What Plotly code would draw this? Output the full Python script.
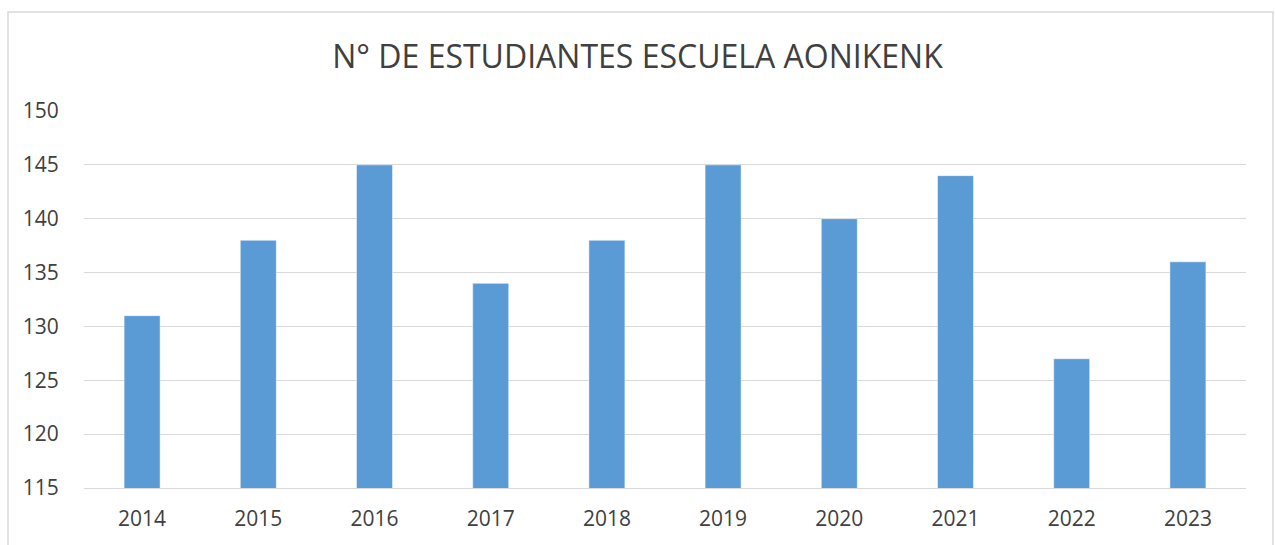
import plotly.graph_objects as go

years = ["2014", "2015", "2016", "2017", "2018", "2019", "2020", "2021", "2022", "2023"]
students = [131, 138, 145, 134, 138, 145, 140, 144, 127, 136]
y_ticks = [115, 120, 125, 130, 135, 140, 145, 150]

W, H = 1275, 545
L, R, T, B = 84, 1246, 111, 488

fig = go.Figure(go.Bar(
    x=years, y=students,
    marker=dict(color="#5B9BD5", line=dict(color="#FFFFFF", width=0.5)),
    width=0.31,
))

pw, ph = R - L, B - T
def px_x(p): return (p - L) / pw
def px_y(p): return (B - p) / ph

fig.add_shape(type="rect", xref="paper", yref="paper",
              x0=px_x(8), x1=px_x(1273), y0=px_y(560), y1=px_y(12),
              line=dict(color="#D9D9D9", width=1.5), fillcolor="rgba(0,0,0,0)", layer="below")

fig.update_layout(
    width=W, height=H,
    margin=dict(l=L, r=W - R, t=T, b=H - B, pad=0),
    paper_bgcolor="white", plot_bgcolor="white",
    font=dict(family="Open Sans", color="#404040"),
    title=dict(text="N° DE ESTUDIANTES ESCUELA AONIKENK", x=0.5, xanchor="center",
               y=1 - 57 / H, yanchor="middle",
               font=dict(size=32, color="#404040", family="Open Sans")),
    showlegend=False,
    bargap=0.69,
)
fig.update_xaxes(showgrid=False, showline=True, linecolor="#D9D9D9", linewidth=1,
                 ticks="outside", ticklen=12, tickcolor="rgba(0,0,0,0)",
                 tickfont=dict(size=21, color="#404040"))
fig.update_yaxes(range=[115, 150], tickvals=y_ticks, showgrid=True, gridcolor="#D9D9D9",
                 gridwidth=1, zeroline=False, ticks="outside", ticklen=20,
                 tickcolor="rgba(0,0,0,0)", tickfont=dict(size=21, color="#404040"))

fig.write_html("out.html", config={"displayModeBar": False},
               post_script="document.body.style.margin='0';document.body.style.overflow='hidden';")
